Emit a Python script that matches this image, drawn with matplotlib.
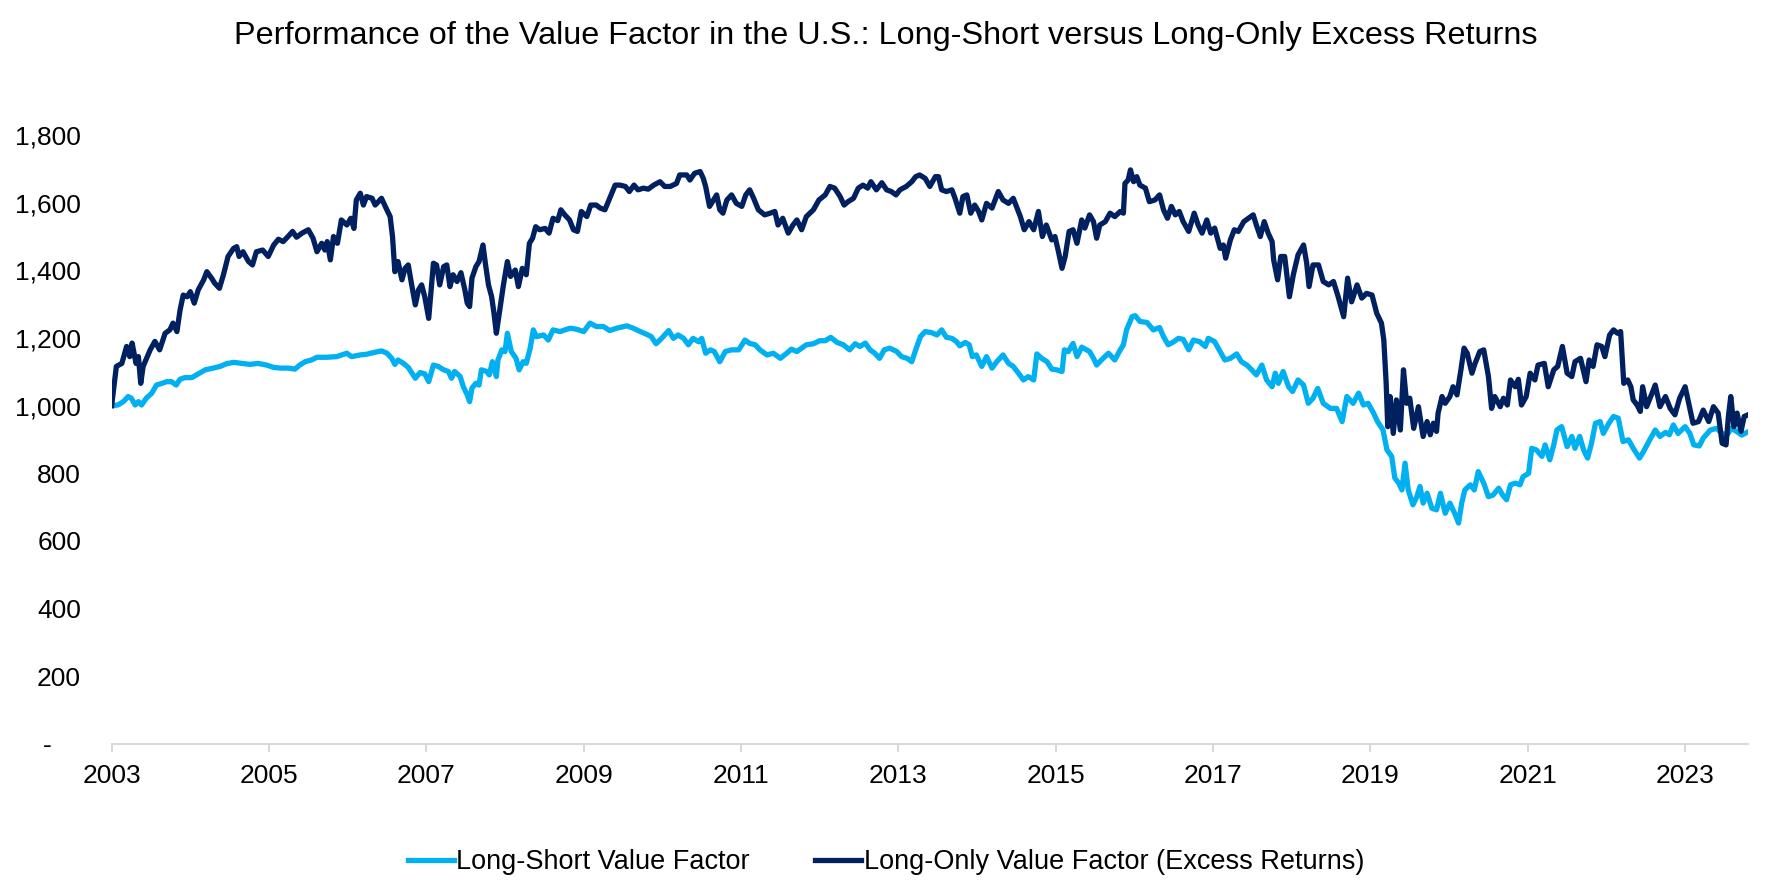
import matplotlib
matplotlib.use("Agg")
import matplotlib.pyplot as plt
from matplotlib.ticker import FuncFormatter

plt.rcParams["font.family"] = ["Liberation Sans", "DejaVu Sans"]

# decimal years / index values
ls_years = [
    2003.00, 2003.08, 2003.15, 2003.21, 2003.25, 2003.30, 2003.34, 2003.38, 2003.44, 2003.51,
    2003.57, 2003.64, 2003.70, 2003.76, 2003.82, 2003.87, 2003.93, 2004.02, 2004.10, 2004.19,
    2004.29, 2004.38, 2004.46, 2004.55, 2004.65, 2004.76, 2004.86, 2004.97, 2005.06, 2005.16,
    2005.25, 2005.33, 2005.39, 2005.46, 2005.54, 2005.61, 2005.73, 2005.86, 2005.99, 2006.05,
    2006.16, 2006.24, 2006.35, 2006.43, 2006.50, 2006.56, 2006.60, 2006.64, 2006.71, 2006.77,
    2006.86, 2006.92, 2006.98, 2007.03, 2007.09, 2007.15, 2007.22, 2007.28, 2007.32, 2007.36,
    2007.43, 2007.47, 2007.52, 2007.55, 2007.58, 2007.63, 2007.67, 2007.70, 2007.77, 2007.80,
    2007.84, 2007.89, 2007.91, 2007.96, 2008.00, 2008.03, 2008.08, 2008.14, 2008.18, 2008.23,
    2008.27, 2008.32, 2008.36, 2008.40, 2008.49, 2008.55, 2008.61, 2008.70, 2008.76, 2008.83,
    2008.91, 2009.00, 2009.08, 2009.16, 2009.25, 2009.33, 2009.42, 2009.55, 2009.63, 2009.72,
    2009.80, 2009.86, 2009.92, 2009.99, 2010.08, 2010.14, 2010.20, 2010.27, 2010.33, 2010.39,
    2010.46, 2010.50, 2010.55, 2010.61, 2010.66, 2010.73, 2010.80, 2010.88, 2010.97, 2011.05,
    2011.11, 2011.18, 2011.24, 2011.33, 2011.41, 2011.50, 2011.58, 2011.64, 2011.71, 2011.77,
    2011.83, 2011.92, 2012.00, 2012.07, 2012.14, 2012.22, 2012.30, 2012.38, 2012.45, 2012.51,
    2012.58, 2012.64, 2012.70, 2012.76, 2012.82, 2012.89, 2012.98, 2013.04, 2013.11, 2013.17,
    2013.22, 2013.28, 2013.34, 2013.42, 2013.49, 2013.55, 2013.61, 2013.68, 2013.74, 2013.78,
    2013.85, 2013.90, 2013.94, 2013.99, 2014.06, 2014.12, 2014.19, 2014.25, 2014.33, 2014.40,
    2014.46, 2014.52, 2014.59, 2014.65, 2014.72, 2014.76, 2014.82, 2014.89, 2014.95, 2015.01,
    2015.08, 2015.11, 2015.16, 2015.22, 2015.27, 2015.33, 2015.43, 2015.48, 2015.52, 2015.58,
    2015.67, 2015.75, 2015.82, 2015.86, 2015.90, 2015.97, 2016.01, 2016.07, 2016.16, 2016.24,
    2016.32, 2016.37, 2016.43, 2016.50, 2016.56, 2016.62, 2016.69, 2016.75, 2016.83, 2016.90,
    2016.94, 2017.02, 2017.09, 2017.15, 2017.22, 2017.30, 2017.36, 2017.43, 2017.49, 2017.55,
    2017.62, 2017.68, 2017.75, 2017.79, 2017.83, 2017.89, 2017.96, 2018.01, 2018.08, 2018.15,
    2018.21, 2018.27, 2018.33, 2018.40, 2018.49, 2018.57, 2018.64, 2018.70, 2018.78, 2018.85,
    2018.91, 2018.97, 2019.04, 2019.09, 2019.16, 2019.21, 2019.27, 2019.31, 2019.36, 2019.40,
    2019.44, 2019.48, 2019.54, 2019.59, 2019.63, 2019.67, 2019.72, 2019.78, 2019.84, 2019.89,
    2019.95, 2020.01, 2020.08, 2020.12, 2020.16, 2020.20, 2020.27, 2020.32, 2020.37, 2020.44,
    2020.50, 2020.56, 2020.63, 2020.68, 2020.73, 2020.78, 2020.84, 2020.90, 2020.94, 2021.01,
    2021.05, 2021.11, 2021.18, 2021.22, 2021.28, 2021.33, 2021.37, 2021.43, 2021.50, 2021.56,
    2021.60, 2021.66, 2021.71, 2021.76, 2021.81, 2021.86, 2021.92, 2021.96, 2022.03, 2022.09,
    2022.15, 2022.21, 2022.28, 2022.34, 2022.42, 2022.47, 2022.55, 2022.62, 2022.68, 2022.75,
    2022.80, 2022.85, 2022.91, 2023.00, 2023.06, 2023.11, 2023.18, 2023.23, 2023.32, 2023.40,
    2023.47, 2023.53, 2023.59, 2023.66, 2023.72, 2023.80,
]
long_short = [
    1000, 1002, 1012, 1027, 1022, 1002, 1012, 1002, 1022, 1037,
    1061, 1066, 1071, 1071, 1061, 1078, 1083, 1083, 1094, 1106,
    1111, 1116, 1124, 1128, 1125, 1122, 1125, 1120, 1113, 1111,
    1111, 1108, 1120, 1130, 1135, 1143, 1143, 1145, 1155, 1145,
    1150, 1152, 1158, 1162, 1155, 1140, 1122, 1135, 1125, 1113,
    1081, 1098, 1094, 1071, 1120, 1116, 1106, 1101, 1081, 1101,
    1086, 1056, 1032, 1012, 1052, 1066, 1061, 1106, 1101, 1091,
    1130, 1086, 1135, 1165, 1160, 1214, 1160, 1140, 1106, 1130,
    1125, 1170, 1224, 1204, 1209, 1194, 1224, 1219, 1224, 1229,
    1226, 1219, 1244, 1234, 1234, 1222, 1229, 1236, 1229, 1219,
    1211, 1204, 1183, 1199, 1222, 1199, 1209, 1199, 1180, 1199,
    1189, 1199, 1155, 1165, 1160, 1130, 1160, 1165, 1165, 1194,
    1184, 1180, 1165, 1150, 1155, 1140, 1155, 1167, 1160, 1170,
    1180, 1183, 1192, 1192, 1202, 1187, 1180, 1165, 1183, 1175,
    1185, 1165, 1155, 1140, 1165, 1170, 1160, 1145, 1140, 1130,
    1165, 1204, 1219, 1216, 1209, 1224, 1202, 1199, 1189, 1177,
    1187, 1180, 1145, 1150, 1116, 1145, 1111, 1130, 1150, 1125,
    1116, 1098, 1076, 1086, 1076, 1153, 1140, 1130, 1108, 1106,
    1101, 1165, 1160, 1184, 1145, 1173, 1160, 1140, 1120, 1135,
    1155, 1135, 1165, 1180, 1224, 1263, 1266, 1249, 1246, 1224,
    1231, 1204, 1180, 1189, 1199, 1196, 1165, 1194, 1189, 1175,
    1199, 1189, 1160, 1135, 1140, 1153, 1130, 1120, 1106, 1091,
    1120, 1076, 1056, 1096, 1066, 1101, 1056, 1042, 1076, 1061,
    1007, 1022, 1051, 1007, 992, 992, 953, 1027, 1007, 1037,
    1002, 1007, 978, 953, 928, 869, 850, 786, 771, 751,
    830, 751, 707, 731, 761, 712, 741, 697, 692, 741,
    682, 712, 677, 653, 712, 751, 766, 751, 805, 771,
    731, 736, 756, 736, 722, 766, 771, 766, 790, 800,
    874, 869, 850, 884, 840, 884, 928, 938, 879, 909,
    874, 909, 869, 845, 889, 948, 953, 918, 948, 968,
    963, 894, 899, 874, 845, 864, 899, 928, 909, 921,
    914, 943, 918, 938, 918, 884, 881, 904, 928, 933,
    918, 913, 933, 923, 913, 923,
]

lo_years = [
    2003.00, 2003.06, 2003.13, 2003.19, 2003.23, 2003.26, 2003.31, 2003.34, 2003.37, 2003.40,
    2003.49, 2003.55, 2003.61, 2003.68, 2003.74, 2003.78, 2003.83, 2003.87, 2003.91, 2003.96,
    2004.00, 2004.05, 2004.10, 2004.17, 2004.21, 2004.27, 2004.31, 2004.37, 2004.42, 2004.48,
    2004.55, 2004.59, 2004.62, 2004.67, 2004.74, 2004.79, 2004.84, 2004.92, 2004.99, 2005.06,
    2005.12, 2005.18, 2005.25, 2005.30, 2005.35, 2005.42, 2005.50, 2005.56, 2005.61, 2005.67,
    2005.71, 2005.74, 2005.78, 2005.82, 2005.87, 2005.92, 2005.99, 2006.04, 2006.08, 2006.11,
    2006.16, 2006.20, 2006.24, 2006.31, 2006.35, 2006.43, 2006.50, 2006.54, 2006.57, 2006.60,
    2006.64, 2006.69, 2006.73, 2006.77, 2006.81, 2006.86, 2006.90, 2006.94, 2006.98, 2007.03,
    2007.09, 2007.13, 2007.17, 2007.22, 2007.26, 2007.30, 2007.34, 2007.39, 2007.44, 2007.49,
    2007.52, 2007.55, 2007.58, 2007.63, 2007.67, 2007.72, 2007.75, 2007.79, 2007.83, 2007.86,
    2007.89, 2007.94, 2007.98, 2008.03, 2008.07, 2008.13, 2008.17, 2008.22, 2008.27, 2008.31,
    2008.35, 2008.39, 2008.44, 2008.51, 2008.56, 2008.61, 2008.67, 2008.71, 2008.76, 2008.82,
    2008.87, 2008.92, 2008.97, 2009.04, 2009.09, 2009.16, 2009.21, 2009.27, 2009.33, 2009.40,
    2009.46, 2009.53, 2009.58, 2009.64, 2009.69, 2009.76, 2009.82, 2009.89, 2009.97, 2010.03,
    2010.10, 2010.18, 2010.22, 2010.31, 2010.35, 2010.41, 2010.48, 2010.52, 2010.55, 2010.60,
    2010.65, 2010.69, 2010.73, 2010.77, 2010.82, 2010.88, 2010.94, 2011.01, 2011.06, 2011.11,
    2011.16, 2011.22, 2011.30, 2011.37, 2011.43, 2011.47, 2011.53, 2011.60, 2011.66, 2011.71,
    2011.77, 2011.83, 2011.92, 2011.99, 2012.07, 2012.13, 2012.19, 2012.26, 2012.31, 2012.36,
    2012.43, 2012.49, 2012.55, 2012.61, 2012.65, 2012.72, 2012.79, 2012.85, 2012.91, 2012.97,
    2013.02, 2013.10, 2013.17, 2013.22, 2013.27, 2013.34, 2013.40, 2013.47, 2013.51, 2013.55,
    2013.61, 2013.68, 2013.72, 2013.78, 2013.82, 2013.87, 2013.92, 2013.97, 2014.02, 2014.06,
    2014.12, 2014.19, 2014.27, 2014.33, 2014.40, 2014.46, 2014.50, 2014.55, 2014.60, 2014.66,
    2014.72, 2014.78, 2014.83, 2014.88, 2014.95, 2014.99, 2015.03, 2015.08, 2015.12, 2015.17,
    2015.22, 2015.27, 2015.33, 2015.37, 2015.43, 2015.48, 2015.52, 2015.56, 2015.63, 2015.69,
    2015.75, 2015.82, 2015.86, 2015.88, 2015.92, 2015.95, 2015.99, 2016.03, 2016.07, 2016.14,
    2016.19, 2016.26, 2016.32, 2016.37, 2016.42, 2016.47, 2016.52, 2016.57, 2016.62, 2016.69,
    2016.76, 2016.81, 2016.86, 2016.92, 2016.97, 2017.02, 2017.09, 2017.13, 2017.16, 2017.22,
    2017.27, 2017.32, 2017.39, 2017.45, 2017.51, 2017.55, 2017.60, 2017.65, 2017.70, 2017.75,
    2017.77, 2017.82, 2017.86, 2017.91, 2017.97, 2018.02, 2018.08, 2018.15, 2018.19, 2018.22,
    2018.27, 2018.34, 2018.40, 2018.47, 2018.53, 2018.59, 2018.66, 2018.71, 2018.76, 2018.83,
    2018.89, 2018.95, 2019.02, 2019.08, 2019.14, 2019.17, 2019.20, 2019.22, 2019.25, 2019.29,
    2019.33, 2019.38, 2019.42, 2019.46, 2019.50, 2019.55, 2019.61, 2019.67, 2019.72, 2019.76,
    2019.80, 2019.84, 2019.86, 2019.91, 2019.95, 2020.01, 2020.05, 2020.10, 2020.15, 2020.19,
    2020.23, 2020.29, 2020.33, 2020.39, 2020.44, 2020.50, 2020.54, 2020.58, 2020.65, 2020.69,
    2020.74, 2020.78, 2020.84, 2020.88, 2020.92, 2020.98, 2021.03, 2021.09, 2021.13, 2021.21,
    2021.26, 2021.33, 2021.38, 2021.44, 2021.50, 2021.56, 2021.60, 2021.67, 2021.74, 2021.78,
    2021.83, 2021.88, 2021.94, 2021.98, 2022.04, 2022.09, 2022.14, 2022.18, 2022.22, 2022.27,
    2022.31, 2022.34, 2022.39, 2022.43, 2022.46, 2022.51, 2022.58, 2022.62, 2022.68, 2022.75,
    2022.81, 2022.87, 2022.93, 2023.00, 2023.05, 2023.10, 2023.17, 2023.23, 2023.30, 2023.36,
    2023.42, 2023.47, 2023.52, 2023.55, 2023.58, 2023.62, 2023.66, 2023.71, 2023.75, 2023.80,
]
long_only = [
    1000, 1116, 1125, 1175, 1145, 1185, 1125, 1145, 1066, 1116,
    1165, 1190, 1165, 1214, 1224, 1244, 1219, 1283, 1327, 1322,
    1337, 1303, 1342, 1372, 1396, 1377, 1362, 1347, 1386, 1441,
    1465, 1470, 1441, 1455, 1426, 1416, 1455, 1460, 1441, 1475,
    1492, 1485, 1502, 1515, 1498, 1510, 1520, 1495, 1455, 1480,
    1460, 1485, 1431, 1500, 1480, 1549, 1534, 1554, 1524, 1608,
    1628, 1593, 1618, 1613, 1593, 1613, 1578, 1559, 1500, 1396,
    1426, 1372, 1406, 1416, 1362, 1298, 1342, 1357, 1322, 1258,
    1421, 1416, 1357, 1411, 1416, 1352, 1387, 1367, 1393, 1342,
    1303, 1293, 1377, 1411, 1426, 1475, 1421, 1357, 1322, 1273,
    1214, 1293, 1357, 1426, 1382, 1401, 1352, 1406, 1387, 1480,
    1495, 1529, 1520, 1524, 1510, 1554, 1547, 1579, 1564, 1549,
    1520, 1515, 1574, 1559, 1593, 1593, 1584, 1579, 1613, 1652,
    1652, 1648, 1633, 1652, 1638, 1643, 1640, 1652, 1662, 1648,
    1648, 1657, 1682, 1682, 1667, 1687, 1692, 1672, 1648, 1589,
    1608, 1623, 1579, 1569, 1608, 1623, 1598, 1589, 1623, 1638,
    1613, 1579, 1564, 1569, 1574, 1534, 1554, 1510, 1534, 1549,
    1520, 1559, 1579, 1608, 1623, 1648, 1643, 1618, 1593, 1603,
    1613, 1643, 1652, 1643, 1662, 1638, 1659, 1638, 1633, 1623,
    1638, 1648, 1662, 1677, 1682, 1672, 1648, 1677, 1677, 1638,
    1633, 1638, 1613, 1569, 1618, 1623, 1569, 1593, 1574, 1549,
    1598, 1584, 1633, 1608, 1598, 1613, 1589, 1559, 1520, 1544,
    1520, 1574, 1500, 1534, 1490, 1500, 1460, 1406, 1441, 1515,
    1520, 1480, 1549, 1525, 1564, 1544, 1495, 1534, 1544, 1569,
    1559, 1574, 1569, 1657, 1667, 1697, 1662, 1677, 1652, 1643,
    1603, 1608, 1623, 1579, 1554, 1589, 1564, 1574, 1544, 1515,
    1569, 1534, 1510, 1549, 1510, 1525, 1465, 1475, 1436, 1490,
    1520, 1515, 1544, 1554, 1564, 1534, 1500, 1544, 1510, 1485,
    1431, 1372, 1441, 1441, 1322, 1387, 1446, 1475, 1421, 1352,
    1416, 1416, 1367, 1357, 1367, 1322, 1263, 1377, 1307, 1357,
    1318, 1332, 1327, 1273, 1244, 1194, 1066, 938, 1027, 918,
    1017, 928, 1106, 1007, 1022, 933, 997, 909, 953, 914,
    948, 924, 978, 1027, 1007, 1027, 1056, 1032, 1106, 1170,
    1155, 1096, 1125, 1160, 1165, 1086, 992, 1027, 997, 1022,
    1002, 1076, 1056, 1078, 1002, 1027, 1096, 1076, 1120, 1125,
    1056, 1106, 1116, 1175, 1096, 1086, 1130, 1140, 1071, 1135,
    1116, 1180, 1175, 1145, 1209, 1224, 1214, 1219, 1066, 1076,
    1056, 1017, 1002, 983, 1056, 997, 1037, 1061, 997, 1027,
    992, 973, 1022, 1056, 1002, 948, 953, 987, 953, 997,
    978, 889, 884, 968, 1027, 938, 978, 924, 968, 973,
]

year_ticks = [2003, 2005, 2007, 2009, 2011, 2013, 2015, 2017, 2019, 2021, 2023]
value_ticks = [0, 200, 400, 600, 800, 1000, 1200, 1400, 1600, 1800]

light_blue = "#00B0F0"
navy = "#002060"

fig = plt.figure(figsize=(17.72, 8.86), dpi=100)
ax = fig.add_axes([0.063, 0.1603, 0.9235, 0.6873])

ax.plot(ls_years, long_short, color=light_blue, lw=3.8,
        solid_joinstyle="round", label="Long-Short Value Factor")
ax.plot(lo_years, long_only, color=navy, lw=3.8,
        solid_joinstyle="round", label="Long-Only Value Factor (Excess Returns)")

ax.set_xlim(2003.0, 2023.8)
ax.set_ylim(0, 1800)
ax.set_xticks(year_ticks)
ax.set_xticklabels([str(y) for y in year_ticks])
ax.set_yticks(value_ticks)
ax.yaxis.set_major_formatter(
    FuncFormatter(lambda v, p: "-    " if v == 0 else f"{v:,.0f}"))

for side in ["top", "right", "left"]:
    ax.spines[side].set_visible(False)
ax.spines["bottom"].set_color("#D9D9D9")
ax.spines["bottom"].set_linewidth(1.5)

ax.tick_params(axis="x", length=5.5, width=1.5, color="#D9D9D9",
               labelsize=19, pad=9)
ax.tick_params(axis="y", length=0, labelsize=19, pad=22)

fig.text(0.5, 0.959,
         "Performance of the Value Factor in the U.S.: Long-Short versus Long-Only Excess Returns",
         ha="center", va="center", fontsize=23.3)

fig.legend(loc="center", bbox_to_anchor=(0.5, 0.027), ncol=2, frameon=False,
           fontsize=19.5, handlelength=1.7, handletextpad=0.1, columnspacing=2.4)

fig.savefig("out.png", dpi=100)
